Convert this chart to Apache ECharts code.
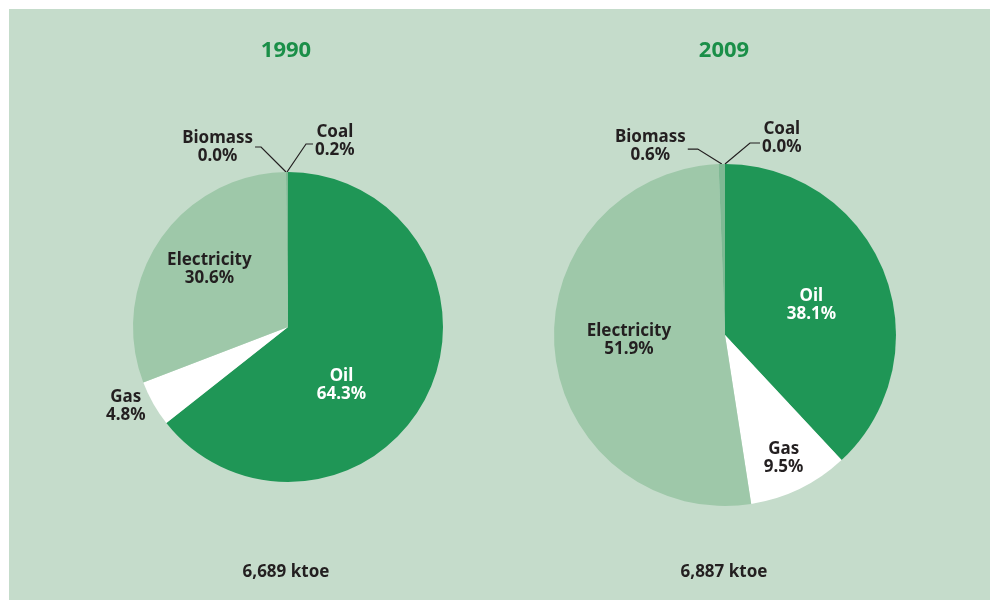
<!DOCTYPE html>
<html><head><meta charset="utf-8">
<script src="https://cdn.jsdelivr.net/npm/echarts@6/dist/echarts.min.js"></script>
<style>html,body{margin:0;padding:0;background:#fff}#c{width:990px;height:600px}</style>
</head><body><div id="c"></div>
<script>
// ---- data ----
const categories = ['Oil', 'Gas', 'Electricity', 'Biomass', 'Coal'];
const years = ['1990', '2009'];
const values1990 = [64.3, 4.8, 30.6, 0.0, 0.2];
const values2009 = [38.1, 9.5, 51.9, 0.6, 0.0];
const totals = ['6,689 ktoe', '6,887 ktoe'];

// ---- styling ----
const FONT = '"Noto Sans", sans-serif';
const DARK = '#231f20';
const TITLE_GREEN = '#1a8f48';
const BG = '#c5dccb';
const colors = { Oil: '#1f9656', Gas: '#ffffff', Electricity: '#9ec8a9', Biomass: '#7fb994', Coal: '#7fb994' };

const pies = [
  { center: [288, 327], radius: 155, titleX: 286, values: values1990,
    labels: {
      Oil: { pos: 'inside', color: '#ffffff', offset: [-19, 23] },
      Gas: { pos: 'outside', shift: [-1, 2] },
      Electricity: { pos: 'inside', offset: [-12, -13] },
      Biomass: { lead: [-25, -25, -6, 0] },
      Coal: { lead: [19, -28, 7, -3] }
    } },
  { center: [725, 335], radius: 171, titleX: 724, values: values2009,
    labels: {
      Oil: { pos: 'inside', color: '#ffffff', offset: [4, 3] },
      Gas: { pos: 'inside', offset: [20, 44] },
      Electricity: { pos: 'inside', offset: [-8, -3] },
      Biomass: { lead: [-24, -15, -10, -2.5] },
      Coal: { lead: [25, -21, 10, -4.5] }
    } }
];

const labelText = p => p.name + '\n' + p.value.toFixed(1) + '%';

const series = pies.map((pie, si) => ({
  type: 'pie',
  center: pie.center,
  radius: pie.radius,
  startAngle: 90,
  clockwise: true,
  avoidLabelOverlap: false,
  minShowLabelAngle: -1,
  silent: true,
  animation: false,
  itemStyle: { borderWidth: 0 },
  emphasis: { disabled: true },
  label: {
    formatter: labelText,
    fontFamily: FONT, fontWeight: 'bold', fontSize: 17, lineHeight: 18,
    color: DARK
  },
  labelLine: { show: true, smooth: false, length: 0, length2: 0, lineStyle: { color: DARK, width: 1.2 } },
  data: categories.map((name, i) => {
    const ls = pie.labels[name];
    const item = { name, value: pie.values[i], itemStyle: { color: colors[name] } };
    if (ls.lead) {
      item.label = { position: 'outside', color: DARK };
      item.labelLine = { show: true, length: 5, length2: 5 };
    } else if (ls.pos === 'outside') {
      item.label = { position: 'outside', color: ls.color || DARK };
      item.labelLine = { show: false, length: 2, length2: 0 };
    } else {
      item.label = { position: 'inside', color: ls.color || DARK, offset: ls.offset || [0, 0], align: 'center' };
      item.labelLine = { show: false };
    }
    return item;
  }),
  labelLayout: params => {
    const name = categories[params.dataIndex];
    const ls = pie.labels[name];
    const r = params.labelRect;
    if (ls && ls.shift) {
      return {
        x: r.x + r.width / 2 + ls.shift[0],
        y: r.y + r.height / 2 + ls.shift[1],
        align: 'center', verticalAlign: 'middle'
      };
    }
    if (!ls || !ls.lead) return {};
    const pts = params.labelLinePoints;
    const p0 = (pts && pts.length) ? pts[0] : [pie.center[0], pie.center[1] - pie.radius];
    const p1 = [p0[0] + ls.lead[0], p0[1] + ls.lead[1]];
    const p2 = [p1[0] + ls.lead[2], p1[1]];
    const sign = ls.lead[2] < 0 ? -1 : 1;
    return {
      x: p2[0] + sign * (2 + r.width / 2),
      y: p2[1] + ls.lead[3],
      align: 'center',
      verticalAlign: 'middle',
      labelLinePoints: [p0, p1, p2]
    };
  }
}));

const graphics = [
  { type: 'rect', z: -10, silent: true, shape: { x: 9, y: 9, width: 981, height: 591 }, style: { fill: BG } }
];
pies.forEach((pie, i) => {
  graphics.push({ type: 'text', x: pie.titleX, y: 51, silent: true,
    style: { text: years[i], align: 'center', verticalAlign: 'middle', fill: TITLE_GREEN,
      font: 'bold 22px ' + FONT } });
  graphics.push({ type: 'text', x: pie.titleX, y: 572, silent: true,
    style: { text: totals[i], align: 'center', verticalAlign: 'middle', fill: DARK,
      font: 'bold 17px ' + FONT } });
});

const chart = echarts.init(document.getElementById('c'), null, { renderer: 'canvas' });
chart.setOption({
  backgroundColor: '#ffffff',
  animation: false,
  graphic: graphics,
  series
});
</script>
</body></html>
